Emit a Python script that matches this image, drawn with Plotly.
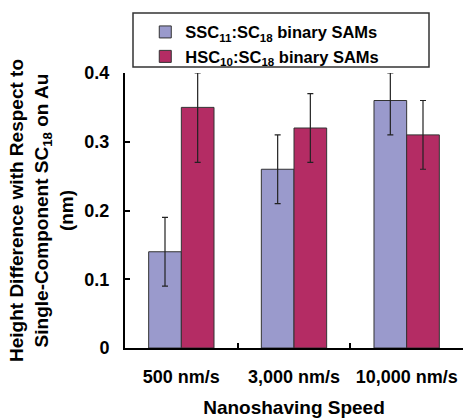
import plotly.graph_objects as go

categories = ["500 nm/s", "3,000 nm/s", "10,000 nm/s"]
ssc_values = [0.14, 0.26, 0.36]
ssc_err_plus = [0.05, 0.05, 0.04]
ssc_err_minus = [0.05, 0.05, 0.05]
hsc_values = [0.35, 0.32, 0.31]
hsc_err_plus = [0.05, 0.05, 0.05]
hsc_err_minus = [0.08, 0.05, 0.05]
y_ticks = [0, 0.1, 0.2, 0.3, 0.4]
y_tick_labels = ["0", "0.1", "0.2", "0.3", "0.4"]

FONT = "Liberation Sans, Arial, sans-serif"

fig = go.Figure()
fig.add_trace(go.Bar(
    x=categories, y=ssc_values,
    name="SSC<sub>11</sub>:SC<sub>18</sub> binary SAMs",
    marker=dict(color="#9A9ACC", line=dict(color="#333333", width=1)),
    error_y=dict(type="data", symmetric=False, array=ssc_err_plus, arrayminus=ssc_err_minus,
                 color="#222222", thickness=1.2, width=3),
))
fig.add_trace(go.Bar(
    x=categories, y=hsc_values,
    name="HSC<sub>10</sub>:SC<sub>18</sub> binary SAMs",
    marker=dict(color="#B42C64", line=dict(color="#333333", width=1)),
    error_y=dict(type="data", symmetric=False, array=hsc_err_plus, arrayminus=hsc_err_minus,
                 color="#222222", thickness=1.2, width=3),
))

fig.update_layout(
    width=464, height=418,
    margin=dict(l=125, r=1, t=73, b=70, autoexpand=False),
    paper_bgcolor="white", plot_bgcolor="white",
    font=dict(family=FONT, size=18, color="black", weight="bold"),
    barmode="group", bargap=0.42, bargroupgap=0,
    showlegend=True,
    legend=dict(x=0.06, y=1.212, xanchor="left", yanchor="top",
                bgcolor="rgba(0,0,0,0)", borderwidth=0,
                font=dict(family=FONT, size=16.5, color="black", weight="bold"),
                tracegroupgap=0, itemwidth=30),
    xaxis=dict(
        showline=True, linecolor="black", linewidth=2, mirror=False,
        ticks="inside", tickson="boundaries", ticklen=5, tickwidth=2, tickcolor="black",
        ticklabelstandoff=11,
        tickfont=dict(family=FONT, size=18, color="black", weight="bold"),
        title=dict(text="Nanoshaving Speed", standoff=16,
                   font=dict(family=FONT, size=19, color="black", weight="bold")),
        showgrid=False, zeroline=False, automargin=False,
    ),
    yaxis=dict(
        range=[0, 0.4], tickvals=y_ticks, ticktext=y_tick_labels,
        showline=True, linecolor="black", linewidth=2,
        ticks="inside", ticklen=5, tickwidth=2, tickcolor="black",
        ticklabelstandoff=10,
        tickfont=dict(family=FONT, size=18, color="black", weight="bold"),
        title=dict(text="Height Difference with Respect to<br>Single-Component SC<sub>18</sub> on Au<br>(nm)",
                   standoff=6,
                   font=dict(family=FONT, size=19, color="black", weight="bold")),
        showgrid=False, zeroline=False, automargin=False,
    ),
    shapes=[dict(type="rect", xref="paper", yref="paper",
                 x0=(133 - 125) / 338, x1=(429 - 125) / 338,
                 y0=(348 - 13) / 275, y1=(348 - 67) / 275,
                 line=dict(color="#333333", width=1.5), fillcolor="rgba(0,0,0,0)")],
)

fig.write_html("out.html")
